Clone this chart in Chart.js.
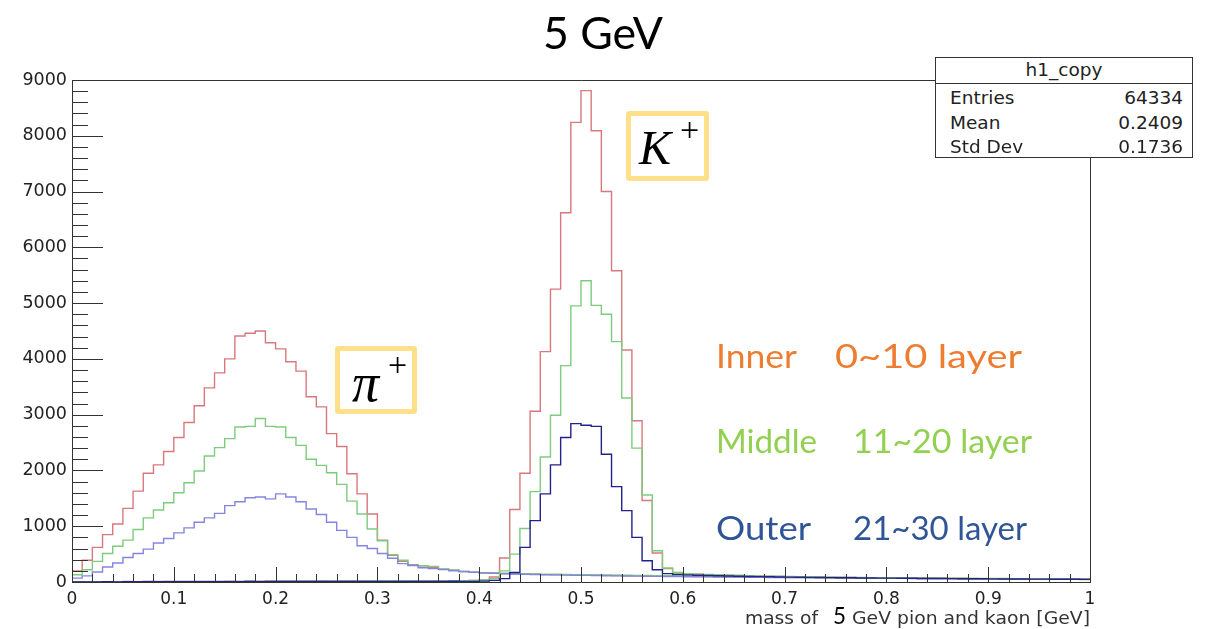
<!DOCTYPE html>
<html><head><meta charset="utf-8">
<script src="https://cdn.jsdelivr.net/npm/chart.js@4.4.1/dist/chart.umd.min.js"></script>
<style>
html,body{margin:0;padding:0;background:#fff;}
#wrap{position:relative;width:1205px;height:629px;overflow:hidden;background:#fff;}
canvas{position:absolute;left:0;top:0;}
.t{position:absolute;white-space:nowrap;line-height:1;transform-origin:0 0;}
#title{top:10px;font-family:Lato,sans-serif;font-size:45px;color:#000;}
#stats{position:absolute;left:935px;top:57px;width:256px;height:99px;border:1px solid #333;background:#fff;font-family:"DejaVu Sans",sans-serif;font-size:18.5px;color:#222;}
#stats .hd{height:25px;border-bottom:1px solid #333;text-align:center;line-height:23px;}
#stats .row{position:relative;height:24.5px;line-height:27px;}
#stats .row span.l{position:absolute;left:14px;}
#stats .row span.r{position:absolute;right:9px;}
.ann{font-family:Lato,sans-serif;font-size:33px;}
.box{position:absolute;border:5px solid #FFE08A;border-radius:3px;background:#fff;box-sizing:border-box;}
.sym{position:absolute;font-family:"Liberation Serif","DejaVu Serif",serif;font-style:italic;color:#000;line-height:1;}
.sup{position:absolute;font-family:"Liberation Serif","DejaVu Serif",serif;font-size:34px;color:#000;line-height:1;}
.xt{top:609px;font-family:"DejaVu Sans",sans-serif;font-size:18px;color:#333;}
</style></head><body>
<div id="wrap">
<canvas id="c" width="1205" height="629"></canvas>
<div class="t" id="title" data-l="543" data-r="663">5 GeV</div>
<div id="stats">
  <div class="hd">h1_copy</div>
  <div class="row"><span class="l">Entries</span><span class="r">64334</span></div>
  <div class="row"><span class="l">Mean</span><span class="r">0.2409</span></div>
  <div class="row"><span class="l">Std Dev</span><span class="r">0.1736</span></div>
</div>
<div class="t ann" style="top:339px;color:#ED7D31;" data-l="716" data-r="797">Inner</div>
<div class="t ann" style="top:339px;color:#ED7D31;" data-l="835" data-r="1022">0~10 layer</div>
<div class="t ann" style="top:424px;color:#92D050;" data-l="716" data-r="817">Middle</div>
<div class="t ann" style="top:424px;color:#92D050;" data-l="853" data-r="1032">11~20 layer</div>
<div class="t ann" style="top:511px;color:#2F5597;" data-l="716" data-r="811">Outer</div>
<div class="t ann" style="top:511px;color:#2F5597;" data-l="853" data-r="1027">21~30 layer</div>
<div class="box" style="left:335px;top:346px;width:82px;height:68px;"></div>
<div class="sym" style="left:352px;top:356px;font-size:54px;">π</div>
<div class="sup" style="left:388px;top:348px;">+</div>
<div class="box" style="left:626px;top:111px;width:83px;height:70px;"></div>
<div class="sym" style="left:639px;top:124px;font-size:48px;">K</div>
<div class="sup" style="left:680px;top:113px;">+</div>
<div class="t xt" data-l="745" data-r="818">mass of</div>
<div class="t" style="top:603px;font-family:Lato,sans-serif;font-size:24px;color:#000;" data-l="833" data-r="846">5</div>
<div class="t xt" data-l="852" data-r="1090">GeV pion and kaon [GeV]</div>
</div>
<script>
// Histogram: 100 bins of width 0.01 over [0,1]; values are bin contents
const binWidth = 0.01;
const xTickLabels = ['0','0.1','0.2','0.3','0.4','0.5','0.6','0.7','0.8','0.9','1'];
const yTickLabels = ['0','1000','2000','3000','4000','5000','6000','7000','8000','9000'];

const pionInner = [
  200, 390, 620, 850, 1040, 1320, 1630, 1950, 2100, 2340,
  2590, 2860, 3160, 3480, 3750, 4000, 4410, 4460, 4500, 4290,
  4180, 3950, 3780, 3320, 3140, 2660, 2430, 1940, 1580, 1220,
  750, 480, 370, 310, 290, 262, 228, 212, 186, 172,
  160, 158, 148, 146, 139, 142, 133, 131, 128, 126,
  122, 121, 118, 116, 113, 112, 108, 106, 104, 101,
  100, 97, 96, 94, 91, 90, 89, 87, 85, 84,
  82, 80, 79, 78, 76, 75, 74, 72, 71, 70,
  68, 67, 66, 64, 63, 62, 60, 60, 58, 57,
  56, 55, 54, 53, 52, 50, 50, 49, 48, 46
];
const pionMiddle = [
  130, 220, 370, 510, 640, 750, 940, 1150, 1290, 1420,
  1600, 1780, 1990, 2260, 2410, 2570, 2780, 2790, 2930, 2790,
  2780, 2590, 2450, 2200, 2090, 1960, 1750, 1450, 1220, 950,
  740, 490, 390, 300, 292, 280, 232, 214, 192, 176,
  166, 162, 158, 152, 149, 145, 141, 139, 136, 133,
  131, 128, 126, 123, 121, 119, 116, 114, 111, 109,
  107, 105, 103, 101, 99, 97, 96, 94, 92, 90,
  89, 88, 86, 85, 83, 82, 80, 79, 78, 76,
  75, 74, 72, 71, 70, 69, 67, 66, 65, 64,
  63, 62, 60, 60, 59, 58, 56, 56, 55, 54
];
const pionOuter = [
  70, 110, 180, 270, 340, 440, 510, 590, 700, 780,
  880, 970, 1070, 1150, 1230, 1370, 1440, 1510, 1525, 1490,
  1580, 1525, 1440, 1310, 1210, 1070, 925, 800, 650, 600,
  510, 425, 330, 295, 255, 240, 221, 202, 186, 174,
  163, 156, 150, 144, 140, 135, 131, 128, 124, 121,
  118, 116, 113, 110, 108, 106, 103, 101, 99, 97,
  95, 93, 92, 90, 88, 87, 85, 84, 82, 81,
  79, 78, 76, 75, 74, 72, 71, 70, 69, 68,
  66, 65, 64, 63, 62, 61, 60, 59, 58, 57,
  56, 55, 54, 53, 52, 51, 50, 49, 48, 47
];
const kaonInner = [
  4, 6, 5, 7, 6, 8, 7, 9, 8, 10,
  9, 11, 10, 12, 11, 13, 12, 14, 13, 15,
  14, 15, 16, 15, 17, 16, 18, 17, 19, 18,
  20, 19, 21, 22, 21, 23, 22, 24, 20, 26,
  40, 90, 430, 1300, 1950, 3060, 4130, 5250, 6620, 8240,
  8810, 8090, 7000, 5580, 4160, 2890, 1460, 520, 240, 170,
  148, 140, 132, 126, 121, 116, 112, 108, 104, 100,
  97, 94, 91, 88, 86, 83, 81, 79, 77, 75,
  73, 71, 70, 68, 66, 65, 63, 62, 61, 59,
  58, 57, 56, 55, 54, 53, 52, 51, 50, 49
];
const kaonMiddle = [
  3, 5, 4, 6, 5, 7, 6, 8, 7, 9,
  8, 10, 9, 11, 10, 12, 11, 13, 12, 13,
  14, 13, 15, 14, 16, 15, 16, 17, 16, 18,
  17, 19, 18, 20, 19, 21, 20, 22, 24, 28,
  35, 60, 200, 500, 960, 1620, 2240, 2990, 3880, 4950,
  5400, 4960, 4800, 4310, 3300, 2400, 1560, 560, 250, 165,
  150, 142, 135, 129, 123, 118, 114, 110, 106, 102,
  99, 96, 93, 90, 88, 85, 83, 81, 79, 77,
  75, 73, 72, 70, 68, 67, 65, 64, 63, 61,
  60, 59, 58, 57, 56, 55, 54, 53, 52, 51
];
const kaonOuter = [
  2, 3, 3, 4, 3, 5, 4, 5, 5, 6,
  5, 6, 6, 7, 6, 7, 7, 8, 7, 8,
  8, 9, 8, 9, 9, 10, 9, 10, 10, 11,
  10, 11, 11, 12, 11, 12, 12, 13, 10, 8,
  15, 30, 60, 170, 620, 1100, 1580, 2100, 2590, 2840,
  2810, 2790, 2290, 1710, 1280, 800, 380, 220, 150, 135,
  128, 122, 116, 111, 107, 103, 99, 96, 93, 90,
  88, 85, 83, 81, 79, 77, 75, 73, 72, 70,
  69, 67, 66, 64, 63, 62, 61, 59, 58, 57,
  56, 55, 54, 53, 52, 51, 50, 49, 48, 47
];

function histPoints(vals) {
  const pts = vals.map((v, i) => ({x: i * binWidth, y: v}));
  pts.push({x: vals.length * binWidth, y: vals[vals.length - 1]});
  return pts;
}
function ds(label, vals, color) {
  return {label, data: histPoints(vals), borderColor: color, borderWidth: 1.4,
          stepped: 'before', pointRadius: 0, fill: false, tension: 0};
}

const RED = '#d9787c', GREEN = '#7dcc7d', LBLUE = '#8585e0', NAVY = '#22228a';

const rootFrame = {
  id: 'rootFrame',
  afterDatasetsDraw(chart) {
    const {ctx, chartArea: a, scales: {x, y}} = chart;
    ctx.save();
    ctx.strokeStyle = '#333';
    ctx.lineWidth = 1;
    ctx.beginPath();
    ctx.moveTo(a.left, a.top + 0.5); ctx.lineTo(a.right + 0.5, a.top + 0.5);
    ctx.lineTo(a.right + 0.5, a.bottom);
    for (let v = 0; v <= 9000; v += 200) {
      const py = Math.round(y.getPixelForValue(v)) + 0.5;
      const len = (v % 1000 === 0) ? 31 : 16;
      ctx.moveTo(a.left, py); ctx.lineTo(a.left + len, py);
    }
    for (let k = 0; k <= 50; k++) {
      const px = Math.round(x.getPixelForValue(k * 0.02)) + 0.5;
      const len = (k % 5 === 0) ? 15 : 8;
      ctx.moveTo(px, a.bottom); ctx.lineTo(px, a.bottom - len);
    }
    ctx.stroke();
    ctx.restore();
  }
};

new Chart(document.getElementById('c'), {
  type: 'line',
  data: {
    datasets: [
      ds('K+ Outer', kaonOuter, NAVY),
      ds('K+ Middle', kaonMiddle, GREEN),
      ds('K+ Inner', kaonInner, RED),
      ds('pi+ Outer', pionOuter, LBLUE),
      ds('pi+ Middle', pionMiddle, GREEN),
      ds('pi+ Inner', pionInner, RED)
    ]
  },
  options: {
    responsive: false,
    devicePixelRatio: 1,
    animation: false,
    layout: {padding: {left: 0, right: 115, top: 80, bottom: 0}},
    plugins: {legend: {display: false}, tooltip: {enabled: false}, title: {display: false}},
    scales: {
      x: {
        type: 'linear', min: 0, max: 1,
        grid: {display: false, drawTicks: false},
        border: {display: true, color: '#333', width: 1},
        ticks: {stepSize: 0.1, autoSkip: false, maxRotation: 0, padding: 7,
                color: '#222', font: {family: 'DejaVu Sans', size: 17},
                callback: (v) => xTickLabels[Math.round(v * 10)]},
        afterFit: (s) => { s.height = 47; }
      },
      y: {
        type: 'linear', min: 0, max: 9000,
        grid: {display: false, drawTicks: false},
        border: {display: true, color: '#333', width: 1},
        ticks: {stepSize: 1000, padding: 5, color: '#222',
                font: {family: 'DejaVu Sans', size: 17.5},
                callback: (v) => yTickLabels[Math.round(v / 1000)]},
        afterFit: (s) => { s.width = 72; }
      }
    }
  },
  plugins: [rootFrame]
});

// stretch the text boxes horizontally to the extents seen in the picture
function fitTexts() {
  document.querySelectorAll('[data-l]').forEach(el => {
    const l = +el.dataset.l, r = +el.dataset.r;
    el.style.transform = 'none';
    el.style.left = l + 'px';
    const w = el.getBoundingClientRect().width;
    if (w > 0) el.style.transform = 'scaleX(' + ((r - l) / w) + ')';
  });
}
fitTexts();
if (document.fonts && document.fonts.ready) document.fonts.ready.then(fitTexts);
</script>
</body></html>
